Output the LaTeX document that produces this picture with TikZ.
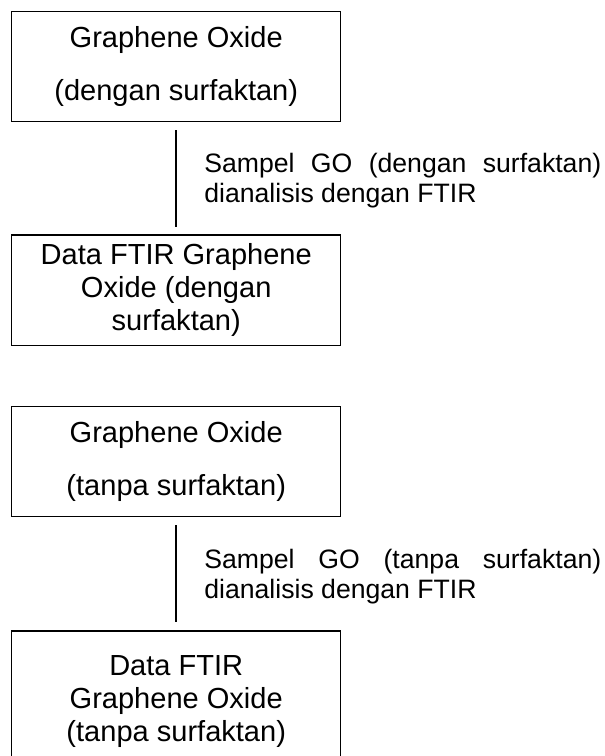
\documentclass[tikz,border=0pt]{standalone}
\usepackage{fontspec}
\setmainfont{Liberation Sans}
\usetikzlibrary{positioning}

\tikzset{
  kotak/.style={draw, line width=.55pt, inner sep=0pt, minimum width=136pt, minimum height=45.5pt, align=center},
  renggang/.style={font=\fontsize{12}{22}\selectfont},
  rapat/.style={font=\fontsize{12}{13.7}\selectfont},
  garis/.style={line width=.85pt, shorten <=3.3pt, shorten >=3.3pt},
  ket/.style={right=11.2pt, yshift=-1pt, inner sep=0pt, text width=164pt, align=justify, font=\fontsize{11}{12.4}\selectfont}
}

\begin{document}
\begin{tikzpicture}
	% batas gambar
	\useasboundingbox (0,0) rectangle (249.6pt,-312.4pt);
	
	% GO dengan surfaktan
	\node[kotak, renggang, anchor=north west] (go1) at (4.55pt,-4.55pt) {Graphene Oxide\\(dengan surfaktan)};
	\node[kotak, rapat, below=46.3pt of go1] (ftir1) {Data FTIR Graphene\\Oxide (dengan\\surfaktan)};
	\draw[garis] (go1) -- node[ket]{Sampel GO (dengan surfaktan)\linebreak dianalisis dengan FTIR} (ftir1);
	
	% GO tanpa surfaktan
	\node[kotak, renggang, below=24.8pt of ftir1] (go2) {Graphene Oxide\\(tanpa surfaktan)};
	\node[kotak, rapat, minimum height=58.3pt, below=46.7pt of go2] (ftir2) {Data FTIR\\Graphene Oxide\\(tanpa surfaktan)};
	\draw[garis] (go2) -- node[ket]{Sampel GO (tanpa surfaktan)\linebreak dianalisis dengan FTIR} (ftir2);
	
\end{tikzpicture}
\end{document}
